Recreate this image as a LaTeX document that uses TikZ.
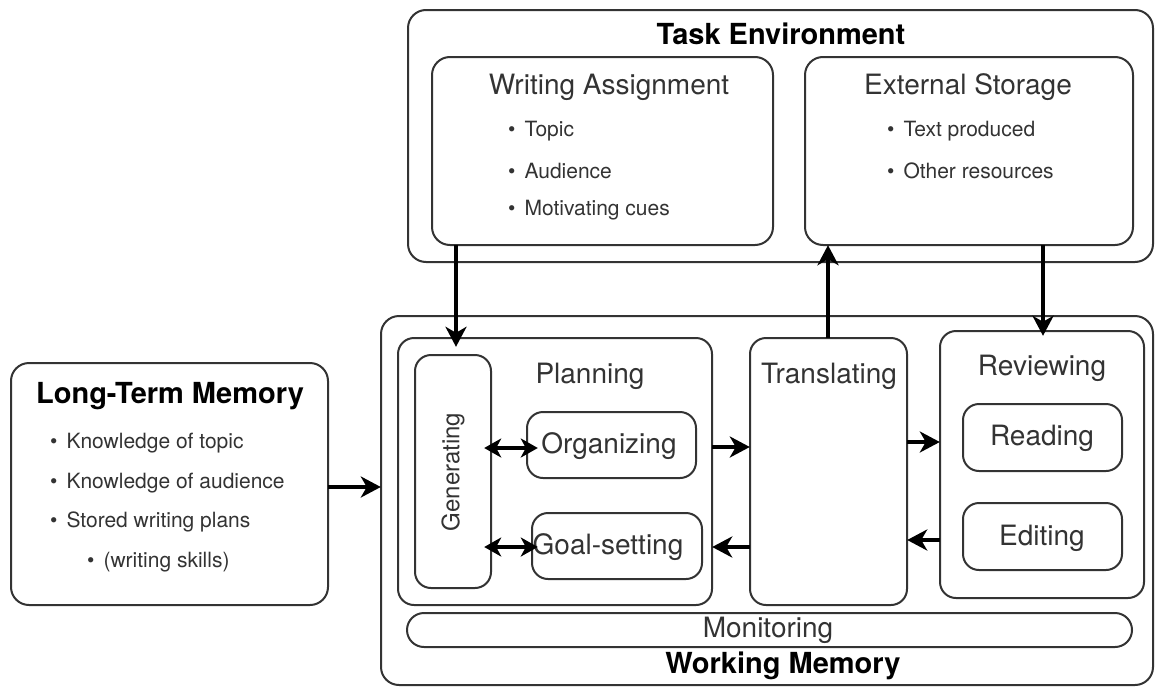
\documentclass[tikz,border=0pt]{standalone}
\usepackage{fontspec}
\setmainfont{TeX Gyre Heros}
\usetikzlibrary{arrows.meta}
\definecolor{linec}{HTML}{333333}
\definecolor{textc}{HTML}{333333}
\tikzset{
  box/.style={draw=linec, line width=2pt, rounded corners=18pt},
  ibox/.style={draw=linec, line width=2pt, rounded corners=16pt},
  lbl/.style={text=textc, font=\fontsize{28}{31}\selectfont, inner sep=0pt},
  ttl/.style={text=black, font=\fontsize{29}{33}\selectfont\bfseries, inner sep=0pt},
  itm/.style={text=textc, font=\fontsize{21}{24}\selectfont, inner sep=0pt, anchor=west},
  arr/.style={-{Stealth[length=20pt,width=21pt,inset=6pt]}, line width=4.5pt, black},
  darr/.style={{Stealth[length=17pt,width=19pt,inset=5pt]}-{Stealth[length=17pt,width=19pt,inset=5pt]}, line width=4.5pt, black}
}
\begin{document}
\begin{tikzpicture}[x=1pt,y=-1pt]
\useasboundingbox (0,0) rectangle (1155,688);
% Task environment
\draw[box] (408,10) rectangle (1153,262);
\node[ttl] (te) at (781,34) {Task Environment};
\draw[box] (432,57) rectangle (773,245);
\node (wa) at (602,151) [minimum width=341pt, minimum height=188pt, inner sep=0pt] {};
\node[lbl] at (609,87) {Writing Assignment};
\node[itm] at (508,131) {•\hspace{9pt}Topic};
\node[itm] at (508,171) {•\hspace{9pt}Audience};
\node[itm] at (508,210) {•\hspace{9pt}Motivating cues};
\draw[box] (805,57) rectangle (1133,245);
\node (es) at (969,151) [minimum width=328pt, minimum height=188pt, inner sep=0pt] {};
\node[lbl] at (968,87) {External Storage};
\node[itm] at (887,131) {•\hspace{9pt}Text produced};
\node[itm] at (887,171) {•\hspace{9pt}Other resources};
% Long-term memory
\draw[box] (11,363) rectangle (328,605);
\node (ltm) at (169.5,484) [minimum width=317pt, minimum height=242pt, inner sep=0pt] {};
\node[ttl] at (170,396) {Long-Term Memory};
\node[itm] at (50,443) {•\hspace{9pt}Knowledge of topic};
\node[itm] at (50,483) {•\hspace{9pt}Knowledge of audience};
\node[itm] at (50,522) {•\hspace{9pt}Stored writing plans};
\node[itm] at (87,562) {•\hspace{9pt}(writing skills)};
% Working memory
\draw[box] (381,316) rectangle (1153,685);
\node (wm) at (767,500) [minimum width=772pt, minimum height=369pt, inner sep=0pt] {};
\node[ttl] at (783,666) {Working Memory};
% Planning
\draw[ibox] (398,338) rectangle (712,605);
\node (pl) at (555,471.5) [minimum width=314pt, minimum height=267pt, inner sep=0pt] {};
\node[lbl] at (590,376) {Planning};
\draw[ibox] (415,355) rectangle (491,588);
\node (gen) at (453,471.5) [minimum width=76pt, minimum height=233pt, inner sep=0pt] {};
\node[lbl, rotate=90, font=\fontsize{24}{27}\selectfont] at (453,472) {Generating};
\draw[ibox] (527,412) rectangle (696,478);
\node (org) at (611.5,445) [minimum width=169pt, minimum height=66pt, inner sep=0pt] {};
\node[lbl] at (609,446) {Organizing};
\draw[ibox] (532,513) rectangle (702,579);
\node (goal) at (617,546) [minimum width=170pt, minimum height=66pt, inner sep=0pt] {};
\node[lbl] at (608,547) {Goal-setting};
% Translating
\draw[ibox] (750,338) rectangle (907,605);
\node (tr) at (828.5,471.5) [minimum width=157pt, minimum height=267pt, inner sep=0pt] {};
\node[lbl] at (829,376) {Translating};
% Reviewing
\draw[ibox] (940,331) rectangle (1144,598);
\node (rev) at (1042,464.5) [minimum width=204pt, minimum height=267pt, inner sep=0pt] {};
\node[lbl] at (1042,368) {Reviewing};
\draw[ibox] (963,404) rectangle (1122,471);
\node (rd) at (1042.5,437.5) [minimum width=159pt, minimum height=67pt, inner sep=0pt] {};
\node[lbl] at (1042,438) {Reading};
\draw[ibox] (963,503) rectangle (1122,570);
\node (ed) at (1042.5,536.5) [minimum width=159pt, minimum height=67pt, inner sep=0pt] {};
\node[lbl] at (1042,538) {Editing};
% Monitoring
\draw[draw=linec, line width=2pt, rounded corners=17pt] (407,613) rectangle (1132,647);
\node (mon) at (769.5,630) [minimum width=725pt, minimum height=34pt, inner sep=0pt] {};
\node[lbl] at (768,630) {Monitoring};
% Arrows
\draw[arr] (ltm.east |- 0,487) -- (wm.west |- 0,487);
\draw[arr, shorten >=8pt] (456,0 |- wa.south) -- (456,0 |- gen.north);
\draw[arr] (828,0 |- tr.north) -- (828,0 |- es.south);
\draw[arr, shorten >=-5pt] (1043,0 |- es.south) -- (1043,0 |- rev.north);
\draw[darr, shorten <=-7pt, shorten >=-11pt] (gen.east |- 0,448) -- (org.west |- 0,448);
\draw[darr, shorten <=-7pt, shorten >=-6pt] (gen.east |- 0,547) -- (goal.west |- 0,547);
\draw[arr] (pl.east |- 0,447) -- (tr.west |- 0,447);
\draw[arr] (tr.west |- 0,547) -- (pl.east |- 0,547);
\draw[arr] (tr.east |- 0,442) -- (rev.west |- 0,442);
\draw[arr] (rev.west |- 0,540) -- (tr.east |- 0,540);
\end{tikzpicture}
\end{document}
